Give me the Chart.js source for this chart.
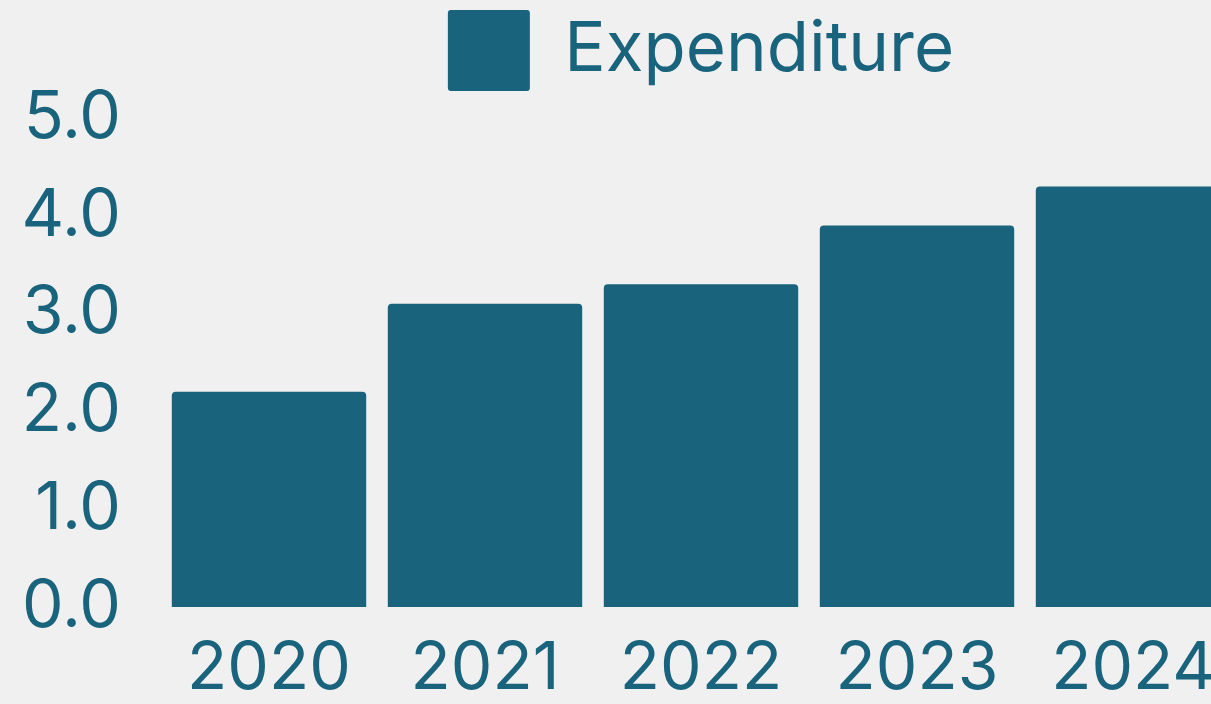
<!DOCTYPE html>
<html>
<head>
<meta charset="utf-8">
<script src="https://cdn.jsdelivr.net/npm/chart.js@4/dist/chart.umd.min.js"></script>
<style>
  html, body { margin: 0; padding: 0; background: #f0f0f0; overflow: hidden; }
  #wrap { position: relative; width: 1241px; height: 704px; }
</style>
</head>
<body>
<div id="wrap"><canvas id="c"></canvas></div>
<script>
const categories = ["2020", "2021", "2022", "2023", "2024"];
const seriesName = "Expenditure";
const expenditure = [2.2, 3.1, 3.3, 3.9, 4.3];
const yTicks = [0, 1, 2, 3, 4, 5];

const COLOR = "#19637d";
const FONT = "Inter";

const legendGap = {
  id: "legendGap",
  beforeInit(chart) {
    const lg = chart.legend;
    if (!lg) return;
    const orig = lg.fit;
    lg.fit = function () {
      orig.call(this);
      this.height += 17;
    };
  }
};

new Chart(document.getElementById("c"), {
  type: "bar",
  data: {
    labels: categories,
    datasets: [{
      label: seriesName,
      data: expenditure,
      backgroundColor: COLOR,
      borderRadius: 4,
      borderSkipped: "start",
      categoryPercentage: 1.0,
      barPercentage: 0.9
    }]
  },
  plugins: [legendGap],
  options: {
    responsive: true,
    maintainAspectRatio: false,
    animation: false,
    layout: { padding: { left: 0, right: 0, top: 10, bottom: 0 } },
    plugins: {
      legend: {
        display: true,
        position: "top",
        fullSize: false,
        labels: {
          color: COLOR,
          font: { family: FONT, size: 69 },
          boxWidth: 82,
          boxHeight: 81,
          useBorderRadius: true,
          borderRadius: 3,
          padding: 0
        }
      },
      tooltip: { enabled: false }
    },
    scales: {
      x: {
        grid: { display: false, drawTicks: false },
        border: { display: false },
        afterFit: (s) => { s.height = 97; },
        ticks: { color: COLOR, font: { family: FONT, size: 66 }, padding: 23, maxRotation: 0 }
      },
      y: {
        min: 0,
        max: 5,
        afterBuildTicks: (s) => { s.ticks = yTicks.map(v => ({ value: v })); },
        afterFit: (s) => { s.width = 161; },
        grid: { display: false, drawTicks: false },
        border: { display: false },
        ticks: {
          color: COLOR,
          font: { family: FONT, size: 66 },
          padding: 40,
          callback: (v) => Number(v).toFixed(1)
        }
      }
    }
  }
});
</script>
</body>
</html>
